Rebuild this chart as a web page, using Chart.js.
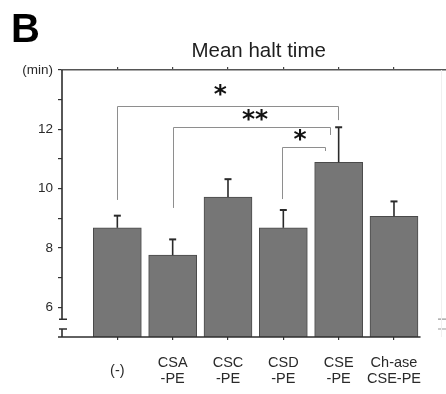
<!DOCTYPE html>
<html><head><meta charset="utf-8">
<script src="https://cdn.jsdelivr.net/npm/chart.js@4/dist/chart.umd.min.js"></script>
<style>html,body{margin:0;padding:0;background:#fff;overflow:hidden}canvas{display:block}</style>
</head><body>
<canvas id="c" width="446" height="394"></canvas>
<script>
const categories = [['(-)'], ['CSA','-PE'], ['CSC','-PE'], ['CSD','-PE'], ['CSE','-PE'], ['Ch-ase','CSE-PE']];
const meanValues = [8.68, 7.76, 9.72, 8.68, 10.89, 9.07];
const errorValues = [0.41, 0.53, 0.60, 0.60, 1.18, 0.50];
const yTickValues = [6, 6.5, 7, 7.5, 8, 8.5, 9, 9.5, 10, 10.5, 11, 11.5, 12, 12.5, 13, 13.5, 14];
const yLabelValues = [6, 8, 10, 12, 14];
const yLabelTexts = ['6', '8', '10', '12', '(min)'];
const bracketStart = [0, 1, 2.97];
const bracketEnd = [3.99, 3.85, 3.76];
const bracketLevel = [12.79, 12.09, 11.41];
const bracketStartDrop = [9.62, 9.35, 9.65];
const bracketEndDrop = [12.31, 11.81, 11.27];
const starTexts = ['*', '**', '*'];
const starX = [1.86, 2.49, 3.30];
const starY = [13.32, 12.48, 11.81];
const axisBreak = [5.27, 5.6];
const panelLetter = 'B';
const chartTitle = 'Mean halt time';

const FONT = "'Liberation Sans', Arial, Helvetica, sans-serif";

const extras = {
  id: 'extras',
  afterDatasetsDraw(chart) {
    const ctx = chart.ctx, xs = chart.scales.x, ys = chart.scales.y, a = chart.chartArea;
    ctx.save();
    // error bars
    ctx.strokeStyle = '#2a2a2a';
    meanValues.forEach((m, i) => {
      const x = xs.getPixelForValue(i);
      const y0 = ys.getPixelForValue(m);
      const y1 = ys.getPixelForValue(m + errorValues[i]);
      ctx.lineWidth = 1.6;
      ctx.beginPath(); ctx.moveTo(x, y0); ctx.lineTo(x, y1); ctx.stroke();
      ctx.lineWidth = 2;
      ctx.beginPath(); ctx.moveTo(x - 3.5, y1); ctx.lineTo(x + 3.5, y1); ctx.stroke();
    });
    // brackets
    ctx.strokeStyle = '#8e8e8e';
    ctx.lineWidth = 1;
    bracketLevel.forEach((lv, i) => {
      const xa = Math.round(xs.getPixelForValue(bracketStart[i])) + 0.5;
      const xb = Math.round(xs.getPixelForValue(bracketEnd[i])) + 0.5;
      const yl = Math.round(ys.getPixelForValue(lv)) + 0.5;
      ctx.beginPath();
      ctx.moveTo(xa, ys.getPixelForValue(bracketStartDrop[i]));
      ctx.lineTo(xa, yl); ctx.lineTo(xb, yl);
      ctx.lineTo(xb, ys.getPixelForValue(bracketEndDrop[i]));
      ctx.stroke();
    });
    // stars
    ctx.fillStyle = '#111';
    ctx.font = "bold 25px 'DejaVu Sans', sans-serif";
    ctx.textAlign = 'center';
    ctx.textBaseline = 'alphabetic';
    starTexts.forEach((t, i) => {
      const m = ctx.measureText(t);
      const cy = ys.getPixelForValue(starY[i]);
      const base = cy + (m.actualBoundingBoxAscent - m.actualBoundingBoxDescent) / 2;
      ctx.fillText(t, xs.getPixelForValue(starX[i]), base);
    });
    // left axis with break
    const ax = a.left;
    const yTop = a.top, yBot = a.bottom;
    const yb1 = ys.getPixelForValue(axisBreak[1]);
    const yb0 = ys.getPixelForValue(axisBreak[0]);
    ctx.strokeStyle = '#2e2e2e';
    ctx.lineWidth = 1.6;
    ctx.beginPath();
    ctx.moveTo(ax, yTop); ctx.lineTo(ax, yb1);
    ctx.moveTo(ax - 3, yb1); ctx.lineTo(ax + 5, yb1);
    ctx.moveTo(ax - 3, yb0); ctx.lineTo(ax + 5, yb0);
    ctx.moveTo(ax, yb0); ctx.lineTo(ax, yBot);
    ctx.stroke();
    // bottom axis line
    ctx.beginPath();
    ctx.moveTo(ax - 4, yBot); ctx.lineTo(xs.getPixelForValue(5.48), yBot);
    ctx.stroke();
    // right axis break caps (faint)
    ctx.strokeStyle = '#9a9a9a';
    ctx.lineWidth = 1.2;
    ctx.beginPath();
    ctx.moveTo(a.right - 8, yb1); ctx.lineTo(a.right, yb1);
    ctx.moveTo(a.right - 8, yb0); ctx.lineTo(a.right, yb0);
    ctx.stroke();
    ctx.strokeStyle = '#f0f0f0';
    ctx.lineWidth = 1;
    ctx.beginPath(); ctx.moveTo(a.right - 4.5, yTop); ctx.lineTo(a.right - 4.5, yBot); ctx.stroke();
    // titles
    ctx.fillStyle = '#000';
    ctx.textAlign = 'left';
    ctx.font = 'bold 40px ' + FONT;
    ctx.fillText(panelLetter, 11, 42);
    ctx.fillStyle = '#1e1e1e';
    ctx.textAlign = 'center';
    ctx.font = '20.5px ' + FONT;
    ctx.fillText(chartTitle, (xs.getPixelForValue(0) + xs.getPixelForValue(5)) / 2 + 3, 57);
    ctx.restore();
  }
};

new Chart(document.getElementById('c'), {
  type: 'bar',
  data: {
    datasets: [{
      data: meanValues.map((v, i) => ({ x: i, y: v })),
      backgroundColor: '#767676',
      borderColor: '#4a4a4a',
      borderWidth: 1,
      barThickness: 48,
      borderSkipped: 'bottom'
    }]
  },
  options: {
    responsive: false,
    animation: false,
    devicePixelRatio: 1,
    layout: { padding: { top: 67, left: 0, right: 0, bottom: 0 } },
    plugins: { legend: { display: false }, tooltip: { enabled: false }, title: { display: false } },
    scales: {
      x: {
        type: 'linear', position: 'bottom', min: -1, max: 5.94, offset: false,
        afterBuildTicks: s => { s.ticks = categories.map((c, i) => ({ value: i })); },
        afterFit: s => { s.height = 57; },
        grid: { drawOnChartArea: false, tickLength: 3, color: '#333', lineWidth: 1.2, offset: false },
        border: { display: false },
        ticks: {
          autoSkip: false, maxRotation: 0, padding: 23, crossAlign: 'center',
          color: '#2a2a2a', font: { family: FONT, size: 14.5, lineHeight: 1.1 },
          callback: v => categories[v] || ''
        }
      },
      x2: {
        type: 'linear', position: 'top', min: -1, max: 5.94, offset: false,
        afterBuildTicks: s => { s.ticks = categories.map((c, i) => ({ value: i })); },
        afterFit: s => { s.height = 3; },
        grid: { drawOnChartArea: false, tickLength: 3, color: '#444', lineWidth: 1.2, offset: false },
        border: { display: true, color: '#555', width: 1.6 },
        ticks: { display: false }
      },
      y: {
        type: 'linear', min: 5, max: 14,
        afterBuildTicks: s => { s.ticks = yTickValues.map(v => ({ value: v })); },
        afterFit: s => { s.width = 62; },
        grid: { drawOnChartArea: false, tickLength: 4, color: '#333', lineWidth: 1.2 },
        border: { display: false },
        ticks: {
          padding: 5, color: '#2a2a2a', font: { family: FONT, size: 13.5 },
          callback: v => { const k = yLabelValues.indexOf(v); return k >= 0 ? yLabelTexts[k] : ''; }
        }
      }
    }
  },
  plugins: [extras]
});
</script>
</body></html>
